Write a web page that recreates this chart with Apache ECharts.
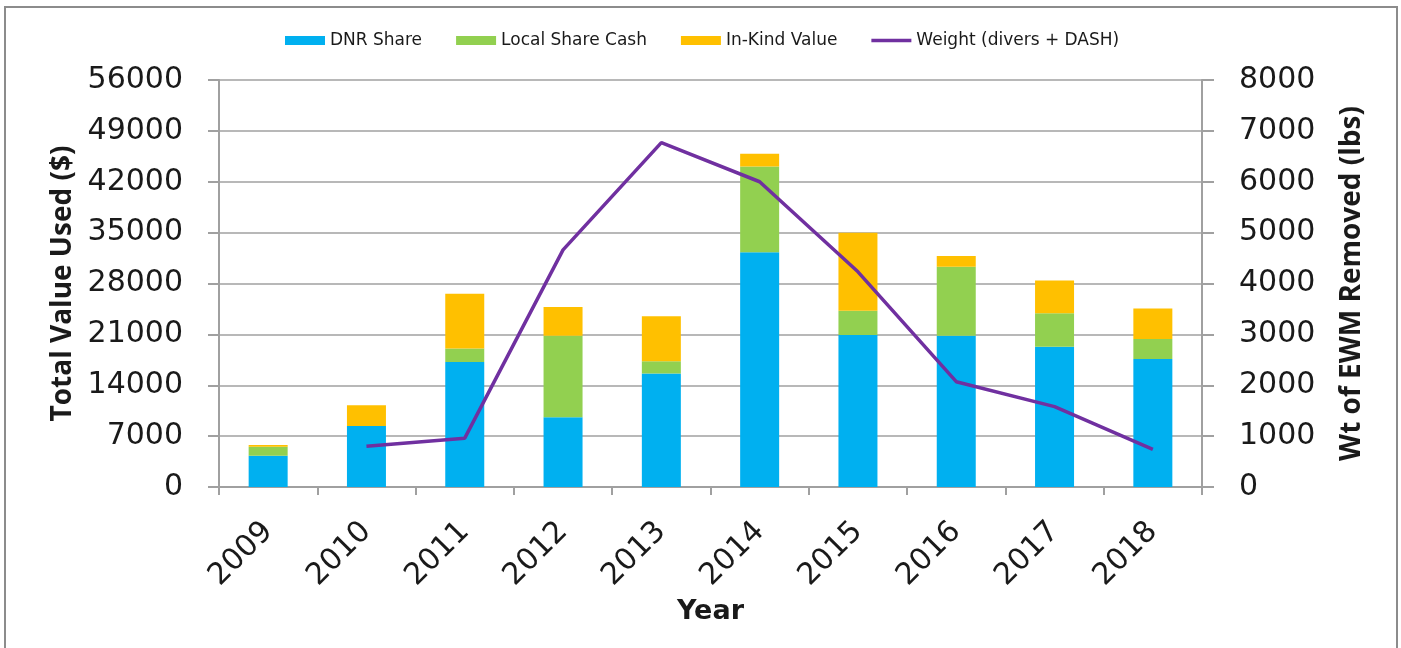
<!DOCTYPE html>
<html>
<head>
<meta charset="utf-8">
<script src="https://cdn.jsdelivr.net/npm/echarts@6/dist/echarts.min.js"></script>
<style>
  html, body { margin: 0; padding: 0; background: #fff; }
  #chart { width: 1401px; height: 648px; }
</style>
</head>
<body>
<div id="chart"></div>
<script>
// values
var years = ['2009', '2010', '2011', '2012', '2013', '2014', '2015', '2016', '2017', '2018'];
var dnrShare = [4300, 8400, 17200, 9600, 15600, 32300, 20900, 20800, 19300, 17600];
var localCash = [1240, 0, 1850, 11200, 1700, 11800, 3350, 9500, 4600, 2750];
var inKind = [230, 2850, 7550, 3950, 6200, 1750, 10750, 1500, 4500, 4200];
var weight = [null, 800, 960, 4660, 6770, 6000, 4230, 2070, 1580, 740];

var leftTicks = [0, 7000, 14000, 21000, 28000, 35000, 42000, 49000, 56000];
var rightTicks = [0, 1000, 2000, 3000, 4000, 5000, 6000, 7000, 8000];

var gray = '#a0a0a0';
var txt = '#1a1a1a';

function plain(v) { return String(v); }

function getOption() {
  return {
    animation: false,
    backgroundColor: '#fff',
    graphic: [{
      type: 'rect',
      shape: { x: 5, y: 7, width: 1392, height: 700 },
      style: { fill: 'none', stroke: '#8c8c8c', lineWidth: 2 },
      silent: true
    }],
    legend: {
      top: 27,
      left: 280,
      itemWidth: 40,
      itemHeight: 9,
      itemGap: 34,
      textStyle: { fontFamily: 'DejaVu Sans', fontSize: 17, color: txt },
      data: [
        { name: 'DNR Share', icon: 'rect' },
        { name: 'Local Share Cash', icon: 'rect' },
        { name: 'In-Kind Value', icon: 'rect' },
        { name: 'Weight (divers + DASH)', icon: 'path://M0,0 L40,0 L40,3.5 L0,3.5 Z' }
      ]
    },
    grid: { left: 219, right: 199, top: 80, bottom: 161 },
    xAxis: {
      type: 'category',
      data: years,
      name: 'Year',
      nameLocation: 'middle',
      nameGap: 110,
      nameTextStyle: { fontFamily: 'DejaVu Sans', fontWeight: 'bold', fontSize: 27, color: txt },
      axisLine: { lineStyle: { color: gray, width: 2 } },
      axisTick: { show: true, length: 8, lineStyle: { color: gray, width: 2 } },
      axisLabel: {
        rotate: 45,
        margin: 40,
        fontFamily: 'DejaVu Sans',
        fontSize: 30,
        color: txt
      }
    },
    yAxis: [{
      type: 'value',
      min: leftTicks[0],
      max: leftTicks[leftTicks.length - 1],
      interval: leftTicks[1] - leftTicks[0],
      name: 'Total Value Used ($)',
      nameLocation: 'middle',
      nameRotate: 90,
      nameGap: 142,
      nameTextStyle: { fontFamily: 'Open Sans', fontWeight: 'bold', fontSize: 28, color: txt },
      axisLine: { show: true, lineStyle: { color: gray, width: 2 } },
      axisTick: { show: true, length: 11, lineStyle: { color: gray, width: 2 } },
      axisLabel: { margin: 36, formatter: plain, fontFamily: 'DejaVu Sans', fontSize: 30, color: txt },
      splitLine: { show: true, lineStyle: { color: gray, width: 1.5 } }
    }, {
      type: 'value',
      position: 'right',
      min: rightTicks[0],
      max: rightTicks[rightTicks.length - 1],
      interval: rightTicks[1] - rightTicks[0],
      name: 'Wt of EWM Removed (lbs)',
      nameLocation: 'middle',
      nameRotate: 90,
      nameGap: 136,
      nameTextStyle: { fontFamily: 'Open Sans', fontWeight: 'bold', fontSize: 28, color: txt },
      axisLine: { show: true, lineStyle: { color: gray, width: 2 } },
      axisTick: { show: true, length: 12, lineStyle: { color: gray, width: 2 } },
      axisLabel: { margin: 37, formatter: plain, fontFamily: 'DejaVu Sans', fontSize: 30, color: txt },
      splitLine: { show: false }
    }],
    series: [{
      name: 'DNR Share',
      type: 'bar',
      stack: 'total',
      barWidth: 39,
      itemStyle: { color: '#00B0F0' },
      data: dnrShare
    }, {
      name: 'Local Share Cash',
      type: 'bar',
      stack: 'total',
      barWidth: 39,
      itemStyle: { color: '#92D050' },
      data: localCash
    }, {
      name: 'In-Kind Value',
      type: 'bar',
      stack: 'total',
      barWidth: 39,
      itemStyle: { color: '#FFC000' },
      data: inKind
    }, {
      name: 'Weight (divers + DASH)',
      type: 'line',
      yAxisIndex: 1,
      symbol: 'none',
      lineStyle: { color: '#7030A0', width: 3.5 },
      itemStyle: { color: '#7030A0' },
      data: weight
    }]
  };
}

const chart = echarts.init(document.getElementById('chart'));
chart.setOption(getOption());
</script>
</body>
</html>
